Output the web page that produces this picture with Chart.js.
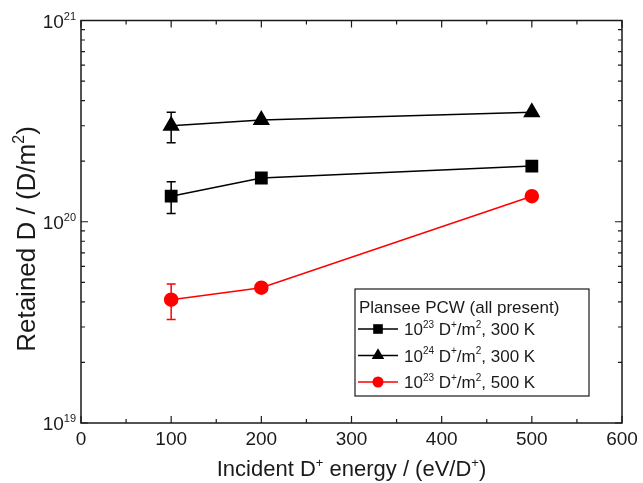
<!DOCTYPE html>
<html lang="en">
<head>
  <meta charset="UTF-8">
  <title>Retained D vs incident energy</title>
  <script src="https://cdn.jsdelivr.net/npm/chart.js"></script>
  <style>
    body { margin: 0; background: #fff; }
    #wrap { width: 643px; height: 483px; }
  </style>
</head>
<body>
  <div id="wrap"><canvas id="chart" width="643" height="483"></canvas></div>

  <script>
    // data
    const energies = [100, 200, 500];

    const flu23_300K = [1.34e20, 1.65e20, 1.89e20];
    const flu23_300K_lo = [1.10e20, null, null];
    const flu23_300K_hi = [1.58e20, null, null];

    const flu24_300K = [3.0e20, 3.2e20, 3.5e20];
    const flu24_300K_lo = [2.47e20, null, null];
    const flu24_300K_hi = [3.5e20, null, null];

    const flu23_500K = [4.1e19, 4.7e19, 1.34e20];
    const flu23_500K_lo = [3.27e19, null, null];
    const flu23_500K_hi = [4.9e19, null, null];

    const xTicks = [0, 100, 200, 300, 400, 500, 600];
    const yDecades = [19, 20, 21];

    const legendTitle = 'Plansee PCW (all present)';
    const legendExp = ['23', '24', '23'];
    const legendTemp = ['300 K', '300 K', '500 K'];

    const FONT = '"Liberation Sans", Arial, sans-serif';
    const INK = '#1a1a1a';

    function pts(vals) {
      return energies.map((e, i) => ({ x: e, y: vals[i] }));
    }

    // text with superscript pieces: [[text, isSup], ...]
    function richWidth(ctx, parts, size) {
      let w = 0;
      parts.forEach(p => {
        ctx.font = (p[1] ? Math.round(size * 0.6) : size) + 'px ' + FONT;
        w += ctx.measureText(p[0]).width;
      });
      return w;
    }
    function drawRich(ctx, parts, x, y, size) {
      ctx.textBaseline = 'alphabetic';
      ctx.textAlign = 'left';
      parts.forEach(p => {
        const s = p[1] ? Math.round(size * 0.6) : size;
        ctx.font = s + 'px ' + FONT;
        ctx.fillText(p[0], x, p[1] ? y - size * 0.42 : y);
        x += ctx.measureText(p[0]).width;
      });
    }

    const errorBars = {
      id: 'errorBars',
      beforeDatasetsDraw(chart) {
        const ctx = chart.ctx;
        const xs = chart.scales.x, ys = chart.scales.y;
        chart.data.datasets.forEach(ds => {
          ctx.save();
          ctx.strokeStyle = ds.borderColor;
          ctx.lineWidth = 1.5;
          ds.data.forEach((p, i) => {
            if (ds.errLo[i] == null) return;
            const px = xs.getPixelForValue(p.x);
            const lo = ys.getPixelForValue(ds.errLo[i]);
            const hi = ys.getPixelForValue(ds.errHi[i]);
            ctx.beginPath();
            ctx.moveTo(px, lo); ctx.lineTo(px, hi);
            ctx.moveTo(px - 4.5, lo); ctx.lineTo(px + 4.5, lo);
            ctx.moveTo(px - 4.5, hi); ctx.lineTo(px + 4.5, hi);
            ctx.stroke();
          });
          ctx.restore();
        });
      }
    };

    const frame = {
      id: 'frame',
      afterDraw(chart) {
        const ctx = chart.ctx;
        const a = chart.chartArea;
        const xs = chart.scales.x, ys = chart.scales.y;
        ctx.save();
        ctx.strokeStyle = INK;
        ctx.fillStyle = INK;
        ctx.lineWidth = 1.5;
        ctx.strokeRect(a.left, a.top, a.right - a.left, a.bottom - a.top);

        ctx.lineWidth = 1.2;
        ctx.beginPath();
        // x ticks, inward, top and bottom
        for (let v = 0; v <= 600; v += 50) {
          const px = xs.getPixelForValue(v);
          const len = v % 100 === 0 ? 7 : 4;
          ctx.moveTo(px, a.bottom); ctx.lineTo(px, a.bottom - len);
          ctx.moveTo(px, a.top); ctx.lineTo(px, a.top + len);
        }
        // y ticks, log, left and right
        for (let d = 19; d <= 21; d++) {
          for (let m = 1; m <= 9; m++) {
            if (d === 21 && m > 1) break;
            const py = ys.getPixelForValue(m * Math.pow(10, d));
            const len = m === 1 ? 7 : 4;
            ctx.moveTo(a.left, py); ctx.lineTo(a.left + len, py);
            ctx.moveTo(a.right, py); ctx.lineTo(a.right - len, py);
          }
        }
        ctx.stroke();

        // x tick labels
        ctx.font = '19px ' + FONT;
        ctx.textAlign = 'center';
        ctx.textBaseline = 'top';
        xTicks.forEach(v => {
          ctx.fillText(String(v), xs.getPixelForValue(v), a.bottom + 7);
        });

        // y tick labels 10^n
        yDecades.forEach(d => {
          const parts = [['10', false], [String(d), true]];
          const w = richWidth(ctx, parts, 19);
          const py = ys.getPixelForValue(Math.pow(10, d));
          drawRich(ctx, parts, a.left - 5 - w, py + 7, 19);
        });

        // axis titles
        const xt = [['Incident D', false], ['+', true], [' energy / (eV/D', false], ['+', true], [')', false]];
        const xw = richWidth(ctx, xt, 22);
        drawRich(ctx, xt, (a.left + a.right) / 2 - xw / 2, 476, 22);

        const yt = [['Retained D / (D/m', false], ['2', true], [')', false]];
        const yw = richWidth(ctx, yt, 26);
        ctx.save();
        ctx.translate(35, 239);
        ctx.rotate(-Math.PI / 2);
        drawRich(ctx, yt, -yw / 2, 0, 26);
        ctx.restore();

        // legend box
        const lx = 355, ly = 289, lw = 234, lh = 107;
        ctx.lineWidth = 1.2;
        ctx.strokeRect(lx, ly, lw, lh);
        ctx.font = '17px ' + FONT;
        ctx.textAlign = 'left';
        ctx.textBaseline = 'alphabetic';
        ctx.fillText(legendTitle, lx + 4, ly + 24);
        chart.data.datasets.forEach((ds, i) => {
          const cy = ly + 40 + i * 26.5;
          ctx.strokeStyle = ds.borderColor;
          ctx.lineWidth = 1.5;
          ctx.beginPath();
          ctx.moveTo(lx + 3, cy); ctx.lineTo(lx + 43, cy);
          ctx.stroke();
          ctx.fillStyle = ds.backgroundColor;
          Chart.helpers.drawPoint(ctx, {
            pointStyle: ds.pointStyle,
            radius: ds.pointRadius * 0.85,
            rotation: 0,
            borderWidth: 0
          }, lx + 23, cy);
          ctx.fillStyle = INK;
          const parts = [['10', false], [legendExp[i], true], [' D', false], ['+', true],
                         ['/m', false], ['2', true], [', ' + legendTemp[i], false]];
          drawRich(ctx, parts, lx + 49, cy + 6, 17);
        });
        ctx.restore();
      }
    };

    new Chart(document.getElementById('chart'), {
      type: 'scatter',
      data: {
        datasets: [
          {
            label: '1e23 300K',
            data: pts(flu23_300K),
            errLo: flu23_300K_lo, errHi: flu23_300K_hi,
            borderColor: '#000', backgroundColor: '#000',
            pointStyle: 'rect', pointRadius: 8, showLine: true, borderWidth: 1.5
          },
          {
            label: '1e24 300K',
            data: pts(flu24_300K),
            errLo: flu24_300K_lo, errHi: flu24_300K_hi,
            borderColor: '#000', backgroundColor: '#000',
            pointStyle: 'triangle', pointRadius: 8.5, showLine: true, borderWidth: 1.5
          },
          {
            label: '1e23 500K',
            data: pts(flu23_500K),
            errLo: flu23_500K_lo, errHi: flu23_500K_hi,
            borderColor: '#ff0000', backgroundColor: '#ff0000',
            pointStyle: 'circle', pointRadius: 6.5, showLine: true, borderWidth: 1.5
          }
        ]
      },
      options: {
        responsive: false,
        animation: false,
        devicePixelRatio: 1,
        layout: { padding: { left: 81, right: 21, top: 20.5, bottom: 60 } },
        elements: { point: { borderWidth: 0, hoverRadius: 0 } },
        plugins: { legend: { display: false }, tooltip: { enabled: false } },
        scales: {
          x: {
            type: 'linear', min: 0, max: 600,
            grid: { display: false, drawTicks: false }, border: { display: false },
            ticks: { display: false, padding: 0 },
            afterFit(scale) { scale.height = 0; }
          },
          y: {
            type: 'logarithmic', min: 1e19, max: 1e21,
            grid: { display: false, drawTicks: false }, border: { display: false },
            ticks: { display: false, padding: 0 },
            afterFit(scale) { scale.width = 0; }
          }
        }
      },
      plugins: [errorBars, frame]
    });
  </script>
</body>
</html>
